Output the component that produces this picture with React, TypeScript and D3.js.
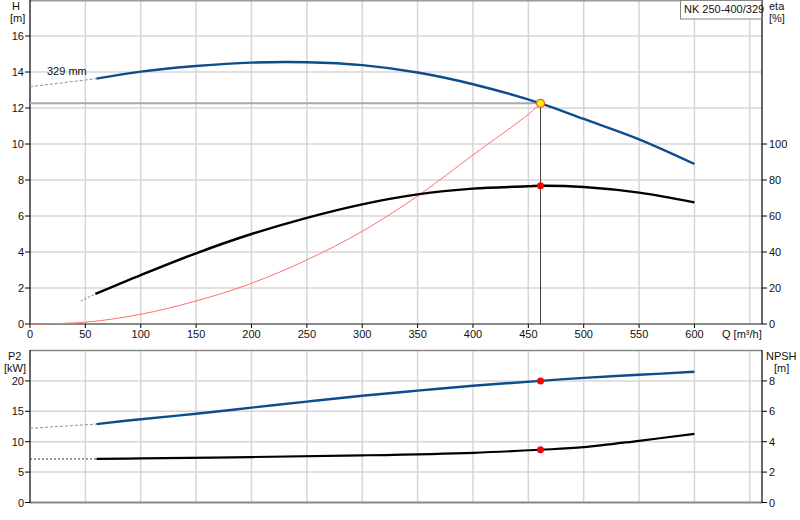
import React from "react";
import * as d3 from "d3";

// pump curve readings (Q in m³/h)
const qTicks = [0, 50, 100, 150, 200, 250, 300, 350, 400, 450, 500, 550, 600];
const qGrid = [50, 100, 150, 200, 250, 300, 350, 400, 450, 500, 550, 600, 650];
const hTicks = [0, 2, 4, 6, 8, 10, 12, 14, 16];
const etaTicks = [0, 20, 40, 60, 80, 100];
const p2Ticks = [0, 5, 10, 15, 20];
const npshTicks = [0, 2, 4, 6, 8];

const headQ = [60, 100, 150, 200, 250, 300, 350, 400, 461, 500, 550, 600];
const headH = [13.63, 14.02, 14.33, 14.52, 14.54, 14.38, 13.97, 13.32, 12.26, 11.39, 10.26, 8.89];
const headExtQ = [0, 60];
const headExtH = [13.18, 13.63];

const etaQ = [59, 100, 150, 200, 250, 300, 350, 400, 450, 461, 500, 550, 600];
const etaV = [16.7, 27.2, 39.3, 50, 59, 66.5, 72, 75.2, 76.5, 76.8, 76.1, 73, 67.6];
const etaExtQ = [46, 59];
const etaExtV = [12.8, 16.7];

const sysQ = [0, 50, 100, 150, 200, 250, 300, 350, 400, 450, 461];
const sysH = [0, 0.1, 0.54, 1.28, 2.26, 3.56, 5.15, 7.11, 9.39, 11.65, 12.26];

const p2Q = [60, 100, 150, 200, 250, 300, 350, 400, 461, 500, 550, 600];
const p2V = [12.9, 13.7, 14.6, 15.6, 16.6, 17.55, 18.4, 19.2, 20.0, 20.5, 21.0, 21.5];
const p2ExtQ = [0, 60];
const p2ExtV = [12.2, 12.9];

const npshQ = [60, 100, 200, 300, 400, 461, 500, 550, 600];
const npshV = [2.87, 2.9, 2.99, 3.1, 3.27, 3.47, 3.64, 4.06, 4.52];
const npshExtQ = [0, 60];
const npshExtV = [2.86, 2.87];

const duty = { q: 461, h: 12.26, eta: 76.8, p2: 20.0, npsh: 3.47 };

const BLUE = "#0c4d8c";
const GRID = "#d6d6d6";
const FONT = "Arial, 'Liberation Sans', sans-serif";

const x = d3.scaleLinear().domain([0, 661]).range([30, 762]);
const yH = d3.scaleLinear().domain([0, 18]).range([324, 0]);
const yEta = d3.scaleLinear().domain([0, 180]).range([324, 0]);
const yP2 = d3.scaleLinear().domain([0, 25]).range([502.5, 350.5]);
const yNpsh = d3.scaleLinear().domain([0, 10]).range([502.5, 350.5]);

const path = (qs: number[], vs: number[], y: d3.ScaleLinear<number, number>) =>
  d3
    .line<number>()
    .x((_, i) => x(qs[i]))
    .y((v) => y(v))
    .curve(d3.curveCatmullRom.alpha(0.5))(vs) || "";

const App: React.FC = () => {
  const txt = { fontFamily: FONT, fontSize: 11, fill: "#111" };
  return (
    <svg width={800} height={520} style={{ position: "absolute", left: 0, top: 0, background: "#fff" }}>
      {/* ---- top panel ---- */}
      {qGrid.map((q) => (
        <line key={"vg" + q} x1={x(q)} x2={x(q)} y1={0} y2={324} stroke={GRID} strokeWidth={1.5} />
      ))}
      {hTicks.slice(1).map((h) => (
        <line key={"hg" + h} x1={30} x2={762} y1={yH(h)} y2={yH(h)} stroke={GRID} strokeWidth={1.5} />
      ))}
      <line x1={30} x2={762} y1={0.75} y2={0.75} stroke="#999" strokeWidth={1.5} />
      <line x1={30} x2={762} y1={324} y2={324} stroke="#888" strokeWidth={2} />
      <line x1={30} x2={30} y1={0} y2={324} stroke="#000" strokeWidth={1.2} />
      <line x1={762} x2={762} y1={0} y2={324} stroke="#000" strokeWidth={1.2} />

      {hTicks.map((h) => (
        <g key={"ht" + h}>
          <line x1={25} x2={30} y1={yH(h)} y2={yH(h)} stroke="#000" />
          <text x={24} y={yH(h) + 4} textAnchor="end" {...txt}>{h}</text>
        </g>
      ))}
      {etaTicks.map((e) => (
        <g key={"et" + e}>
          <line x1={762} x2={767} y1={yEta(e)} y2={yEta(e)} stroke="#000" />
          <text x={769} y={yEta(e) + 4} {...txt}>{e}</text>
        </g>
      ))}
      {qTicks.map((q) => (
        <g key={"qt" + q}>
          <line x1={x(q)} x2={x(q)} y1={324} y2={328} stroke="#000" />
          <text x={x(q)} y={338} textAnchor="middle" {...txt}>{q}</text>
        </g>
      ))}
      <text x={722} y={338} {...txt}>
        Q [m³/h]
      </text>
      <text x={12} y={10} {...txt}>H</text>
      <text x={10} y={22} {...txt}>[m]</text>
      <text x={769} y={10} {...txt}>eta</text>
      <text x={769} y={22} {...txt}>[%]</text>

      <rect x={680.5} y={0.5} width={81} height={18.5} fill="#fff" stroke="#888" />
      <text x={684} y={13} {...txt}>NK 250-400/329</text>

      {/* duty lines */}
      <line x1={30} x2={x(duty.q)} y1={yH(duty.h)} y2={yH(duty.h)} stroke="#aaa" strokeWidth={2} />
      <line x1={x(duty.q)} x2={x(duty.q)} y1={yH(duty.h)} y2={324} stroke="#444" strokeWidth={1} />

      {/* system curve */}
      <path d={path(sysQ, sysH, yH)} fill="none" stroke="#ff7070" strokeWidth={1} />

      {/* head */}
      <path d={path(headExtQ, headExtH, yH)} fill="none" stroke="#7f93b5" strokeWidth={1} strokeDasharray="3,2" />
      <path d={path(headQ, headH, yH)} fill="none" stroke={BLUE} strokeWidth={2.4} />
      <text x={47} y={75} {...txt}>329 mm</text>

      {/* efficiency */}
      <path d={path(etaExtQ, etaExtV, yEta)} fill="none" stroke="#777" strokeWidth={1} strokeDasharray="2,2" />
      <path d={path(etaQ, etaV, yEta)} fill="none" stroke="#000" strokeWidth={2.4} />

      <circle cx={x(duty.q)} cy={yEta(duty.eta)} r={3.5} fill="#ff0000" />
      <circle cx={x(duty.q)} cy={yH(duty.h)} r={4} fill="#ffee00" stroke="#e8602a" strokeWidth={1.2} />

      {/* ---- bottom panel ---- */}
      {qGrid.map((q) => (
        <line key={"bvg" + q} x1={x(q)} x2={x(q)} y1={350} y2={502.5} stroke={GRID} strokeWidth={1.5} />
      ))}
      {p2Ticks.slice(1).map((p) => (
        <line key={"bhg" + p} x1={30} x2={762} y1={yP2(p)} y2={yP2(p)} stroke={GRID} strokeWidth={1.5} />
      ))}
      <line x1={30} x2={762} y1={350.5} y2={350.5} stroke="#888" strokeWidth={1.5} />
      <line x1={30} x2={762} y1={502.5} y2={502.5} stroke="#888" strokeWidth={2} />
      <line x1={30} x2={30} y1={350} y2={503} stroke="#000" strokeWidth={1.2} />
      <line x1={762} x2={762} y1={350} y2={503} stroke="#000" strokeWidth={1.2} />

      {p2Ticks.map((p) => (
        <g key={"pt" + p}>
          <line x1={25} x2={30} y1={yP2(p)} y2={yP2(p)} stroke="#000" />
          <text x={24} y={yP2(p) + 4} textAnchor="end" {...txt}>{p}</text>
        </g>
      ))}
      {npshTicks.map((n) => (
        <g key={"nt" + n}>
          <line x1={762} x2={767} y1={yNpsh(n)} y2={yNpsh(n)} stroke="#000" />
          <text x={769} y={yNpsh(n) + 4} {...txt}>{n}</text>
        </g>
      ))}
      <text x={8} y={360} {...txt}>P2</text>
      <text x={4} y={372} {...txt}>[kW]</text>
      <text x={766} y={360} {...txt}>NPSH</text>
      <text x={774} y={372} {...txt}>[m]</text>

      <path d={path(p2ExtQ, p2ExtV, yP2)} fill="none" stroke="#7f93b5" strokeWidth={1} strokeDasharray="3,2" />
      <path d={path(p2Q, p2V, yP2)} fill="none" stroke={BLUE} strokeWidth={2.4} />
      <path d={path(npshExtQ, npshExtV, yNpsh)} fill="none" stroke="#333" strokeWidth={1} strokeDasharray="2,2" />
      <path d={path(npshQ, npshV, yNpsh)} fill="none" stroke="#000" strokeWidth={2.2} />

      <circle cx={x(duty.q)} cy={yP2(duty.p2)} r={3.5} fill="#ff0000" />
      <circle cx={x(duty.q)} cy={yNpsh(duty.npsh)} r={3.5} fill="#ff0000" />
    </svg>
  );
};

export default App;
